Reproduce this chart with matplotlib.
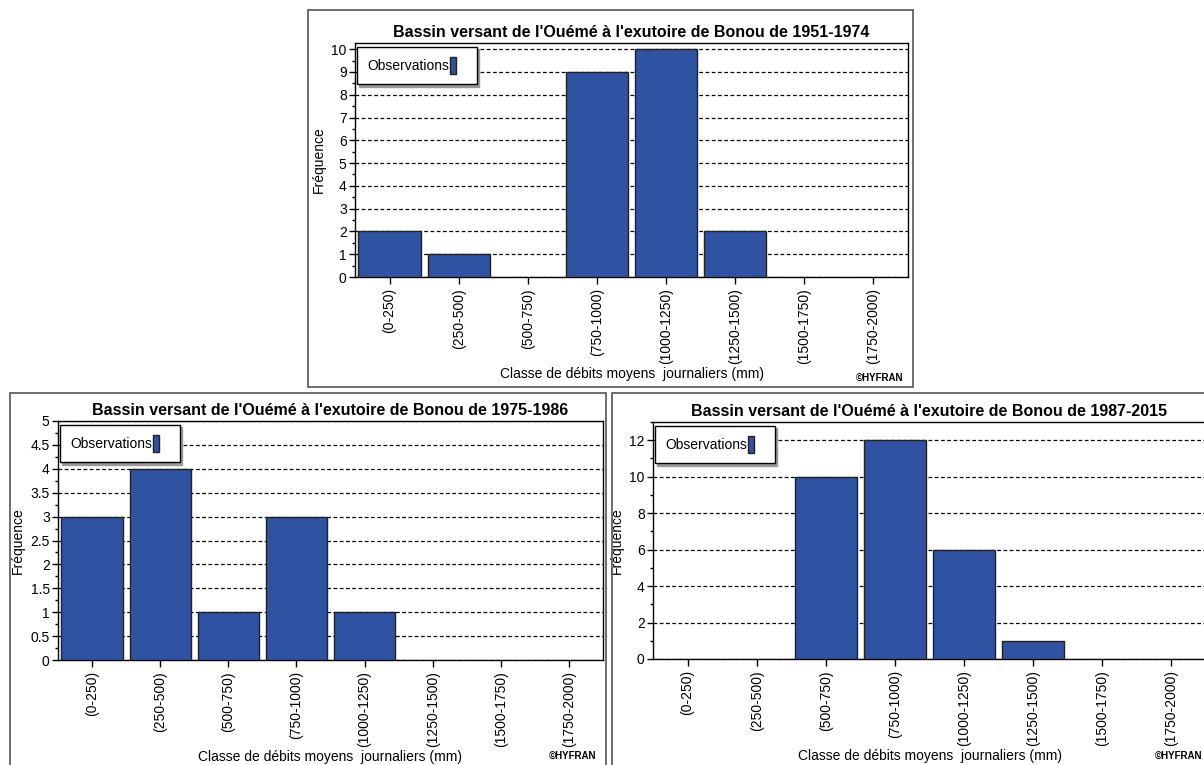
import matplotlib
matplotlib.use('Agg')
import matplotlib.pyplot as plt
from matplotlib.patches import Rectangle, Patch
from matplotlib.ticker import MultipleLocator
import numpy as np

plt.rcParams['font.family'] = ['Liberation Sans Narrow', 'Liberation Sans', 'DejaVu Sans']

# --- data ---
classes = ['(0-250)', '(250-500)', '(500-750)', '(750-1000)',
           '(1000-1250)', '(1250-1500)', '(1500-1750)', '(1750-2000)']
freq_1951_1974 = [2, 1, 0, 9, 10, 2, 0, 0]
freq_1975_1986 = [3, 4, 1, 3, 1, 0, 0, 0]
freq_1987_2015 = [0, 0, 10, 12, 6, 1, 0, 0]
periods = ['1951-1974', '1975-1986', '1987-2015']

BAR_COLOR = '#2F52A3'
W, H = 1204, 765

fig = plt.figure(figsize=(W / 100, H / 100), dpi=100)


def fx(x):
    return x / W


def fy(y):
    return 1 - y / H


def draw_panel(box, axbox, values, period, ymax, major, minor):
    # panel frame (pixel coords: left, top, right, bottom)
    bl, bt, br, bb = box
    fig.patches.append(Rectangle((fx(bl), fy(bb)), fx(br - bl), (bb - bt) / H,
                                 transform=fig.transFigure, fill=False,
                                 edgecolor='#555555', linewidth=1.2, zorder=0))

    al, at, ar, ab = axbox
    ax = fig.add_axes([fx(al), fy(ab), fx(ar - al), (ab - at) / H])
    x = np.arange(len(classes))
    bars = ax.bar(x, values, width=0.9, color=BAR_COLOR, edgecolor='#222222',
                  linewidth=1.0, zorder=3)
    # empty classes are not drawn at all
    for b, v in zip(bars, values):
        if v == 0:
            b.set_visible(False)
    ax.set_xlim(-0.5, len(classes) - 0.5)
    ax.set_ylim(0, ymax)
    ax.yaxis.set_major_locator(MultipleLocator(major))
    ax.yaxis.set_minor_locator(MultipleLocator(minor))
    ax.yaxis.set_major_formatter(plt.FuncFormatter(lambda v, p: f'{v:g}'))
    ax.grid(True, axis='y', which='major', color='black', linestyle=(0, (3, 2)),
            linewidth=0.9, zorder=0)
    ax.set_axisbelow(True)
    ax.set_xticks(x)
    ax.set_xticklabels(classes, rotation=90, fontsize=10)
    ax.tick_params(axis='y', which='major', length=4, width=1, labelsize=10, pad=2)
    ax.tick_params(axis='y', which='minor', length=2, width=1)
    ax.tick_params(axis='x', length=5, width=1, pad=3)
    for s in ax.spines.values():
        s.set_linewidth(1.0)
        s.set_color('black')

    ax.set_ylabel('Fréquence', fontsize=10, labelpad=4)
    ax.set_xlabel('Classe de débits moyens  journaliers (mm)', fontsize=10,
                  labelpad=2)
    ax.set_title(f"Bassin versant de l'Ouémé à l'exutoire de Bonou de {period}",
                 fontsize=11.5, fontweight='bold', pad=4)

    # legend box: ~120 x 36 px in the upper left corner
    lw = 120 / (ar - al)
    lh = 36 / (ab - at)
    leg = ax.legend(handles=[Patch(facecolor=BAR_COLOR, edgecolor='#222222')],
                    labels=['Observations'], loc='upper left',
                    bbox_to_anchor=(0.003, 0.985 - lh, lw, lh), mode='expand',
                    markerfirst=False,
                    handlelength=0.45, handleheight=1.5, handletextpad=0.05,
                    borderpad=0.75, borderaxespad=0, fancybox=False,
                    shadow={'color': '#9a9a9a', 'alpha': 1},
                    framealpha=1, edgecolor='black', fontsize=10)
    leg.get_frame().set_linewidth(1.0)

    fig.text(fx(br - 33), fy(min(bb, H) - 9), '©HYFRAN', fontsize=7,
             fontweight='bold', ha='center', va='center')
    return ax


draw_panel((308, 10, 913, 387), (355, 43, 908, 277), freq_1951_1974,
           periods[0], 10.27, 1, 0.5)
draw_panel((10, 393, 606, 772), (58, 421, 603, 660), freq_1975_1986,
           periods[1], 5, 0.5, 0.25)
draw_panel((612, 393, 1212, 772), (653, 422, 1206, 659), freq_1987_2015,
           periods[2], 13, 2, 1)

fig.savefig('out.png', dpi=100)
